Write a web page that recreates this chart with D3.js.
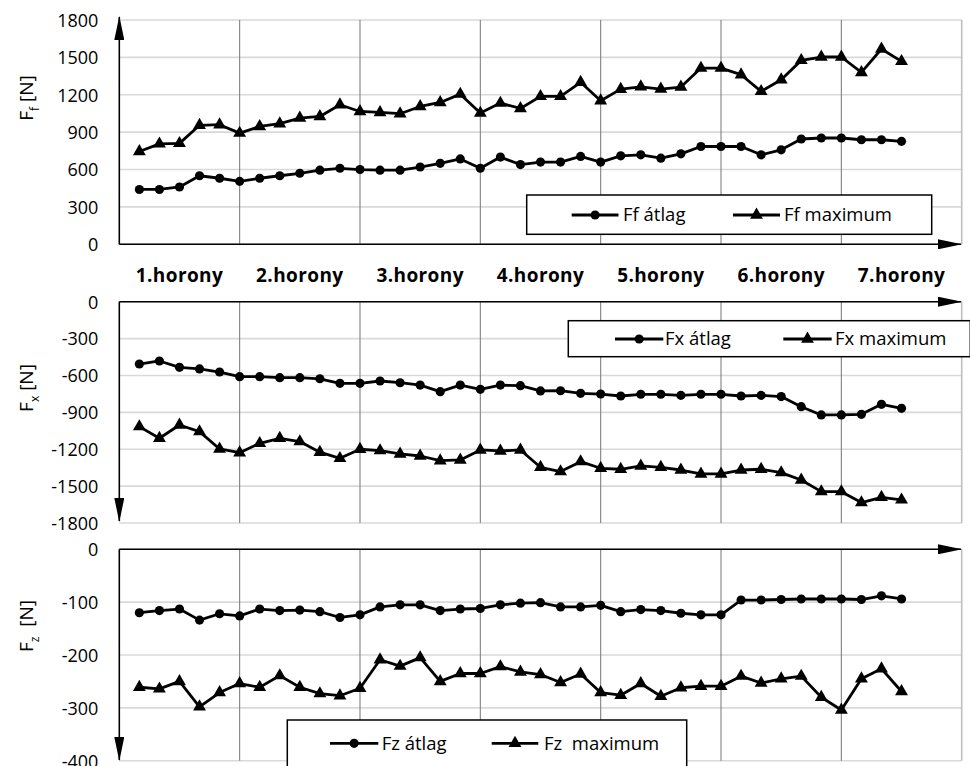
<!DOCTYPE html>
<html>
<head>
<meta charset="utf-8">
<script src="https://cdn.jsdelivr.net/npm/d3@7"></script>
<style>
  html, body { margin: 0; padding: 0; background: #fff; }
  svg { display: block; font-family: "Open Sans", "Liberation Sans", sans-serif; }
  .tick-label { font-size: 18px; fill: #000; }
  .horony { font-size: 19px; font-weight: bold; fill: #000; letter-spacing: 0.4px; }
  .legend-text { font-size: 18.5px; fill: #000; }
  .y-title { font-size: 19px; fill: #000; }
</style>
</head>
<body>
<div id="chart"></div>
<script>
// Három panel: Ff, Fx, Fz átlag és maximum, hornyonként 6 mérési pont.

const SECTIONS = ["1.horony", "2.horony", "3.horony", "4.horony", "5.horony", "6.horony", "7.horony"];
const SLOTS_PER_SECTION = 6;

const ffTicks = [0, 300, 600, 900, 1200, 1500, 1800];
const fxTicks = [0, -300, -600, -900, -1200, -1500, -1800];
const fzTicks = [0, -100, -200, -300, -400];

const ffAtlag = [440, 440, 460, 550, 530, 505, 530, 550, 570, 595, 610, 600, 595, 595, 620, 650, 685, 610, 700, 640,
  660, 660, 705, 660, 710, 718, 691, 726, 785, 785, 785, 718, 758, 845, 853, 853, 839, 839, 826];
const ffMax = [745, 806, 810, 955, 960, 892, 946, 968, 1013, 1026, 1120, 1066, 1058, 1048, 1106, 1138, 1205, 1053, 1133, 1090,
  1187, 1187, 1300, 1152, 1245, 1264, 1246, 1262, 1414, 1414, 1361, 1227, 1321, 1476, 1503, 1503, 1379, 1567, 1468];

const fxAtlag = [-507, -482, -534, -547, -572, -610, -610, -618, -618, -627, -664, -664, -645, -659, -678, -732, -678, -713, -678, -683,
  -726, -724, -745, -751, -767, -753, -753, -762, -753, -753, -767, -762, -772, -854, -921, -921, -916, -835, -867];
const fxMax = [-1016, -1111, -1003, -1057, -1198, -1228, -1152, -1111, -1138, -1224, -1274, -1200, -1211, -1238, -1255, -1293, -1287, -1206, -1214, -1206,
  -1347, -1382, -1301, -1355, -1363, -1336, -1347, -1369, -1401, -1401, -1369, -1363, -1390, -1450, -1545, -1545, -1634, -1591, -1612];

const fzAtlag = [-120, -116, -113, -134, -122, -126, -113, -116, -115, -118, -129, -124, -109, -105, -105, -116, -113, -112, -105, -102,
  -101, -109, -109, -106, -118, -114, -116, -121, -124, -124, -96, -96, -95, -94, -94, -94, -95, -88, -94];
const fzMax = [-261, -264, -250, -298, -271, -254, -261, -239, -261, -273, -277, -263, -209, -221, -205, -250, -235, -235, -222, -232,
  -237, -252, -236, -271, -276, -254, -278, -262, -259, -259, -240, -253, -245, -240, -280, -304, -245, -226, -269];

const W = 970, H = 766;
const X0 = 119.3, X1 = 961.7, ARROW_TIP_X = 961;

const x = d3.scaleLinear()
  .domain([0, SECTIONS.length * SLOTS_PER_SECTION])
  .range([X0, X1]);

const panels = [
  {
    top: 20, bottom: 244.3, domain: [0, 1800], ticks: ffTicks,
    axisY: 244.3, yArrow: [244.3, 17],
    title: ["F", "f", " [N]"], titleY: 98,
    series: [ffAtlag, ffMax], names: ["Ff átlag", "Ff maximum"],
    legend: { x: 526.7, y: 195, w: 405, h: 39.3, ty: 215, items: [[571.7, 618.5, 623], [733, 780, 784]] }
  },
  {
    top: 301.7, bottom: 523, domain: [0, -1800], ticks: fxTicks,
    axisY: 301.7, yArrow: [301.7, 521],
    title: ["F", "x", " [N]"], titleY: 388,
    series: [fxAtlag, fxMax], names: ["Fx átlag", "Fx maximum"],
    legend: { x: 568.3, y: 320.7, w: 402, h: 36, ty: 339, items: [[615, 663.3, 665], [783.3, 831.7, 835]] }
  },
  {
    top: 549.3, bottom: 760.7, domain: [0, -400], ticks: fzTicks,
    axisY: 549.3, yArrow: [549.3, 760],
    title: ["F", "z", "  [N]"], titleY: 626,
    series: [fzAtlag, fzMax], names: ["Fz átlag", "Fz  maximum"],
    legend: { x: 287.3, y: 720, w: 399.4, h: 60, ty: 743.3, items: [[330, 378.3, 381.7], [491.7, 538.3, 544]] }
  }
];

const svg = d3.select("#chart").append("svg")
  .attr("width", W)
  .attr("height", H)
  .attr("viewBox", `0 0 ${W} ${H}`);

// Nyílhegy
svg.append("defs").append("marker")
  .attr("id", "arrow")
  .attr("markerUnits", "userSpaceOnUse")
  .attr("markerWidth", 24)
  .attr("markerHeight", 10)
  .attr("refX", 23)
  .attr("refY", 5)
  .attr("orient", "auto")
  .append("path")
  .attr("d", "M0,0 L24,5 L0,10 Z")
  .attr("fill", "#000");

const symCircle = d3.symbol().type(d3.symbolCircle).size(66);
const symTriangle = d3.symbol().type(d3.symbolTriangle).size(72);
const symbols = [symCircle, symTriangle];

panels.forEach(p => {
  const y = d3.scaleLinear().domain(p.domain).range(p.domain[1] > 0 ? [p.bottom, p.top] : [p.top, p.bottom]);
  const g = svg.append("g");

  // Vízszintes rácsvonalak
  g.append("g").selectAll("line")
    .data(p.ticks)
    .join("line")
    .attr("x1", X0).attr("x2", X1)
    .attr("y1", d => y(d)).attr("y2", d => y(d))
    .attr("stroke", "#d9d9d9")
    .attr("stroke-width", 1.6);

  // Függőleges rácsvonalak (horony határok) + jobb keret
  const bounds = SECTIONS.map((_, i) => (i + 1) * SLOTS_PER_SECTION);
  g.append("g").selectAll("line")
    .data(bounds)
    .join("line")
    .attr("x1", d => x(d)).attr("x2", d => x(d))
    .attr("y1", p.top).attr("y2", p.bottom)
    .attr("stroke", d => d === bounds[bounds.length - 1] ? "#bfbfbf" : "#808080")
    .attr("stroke-width", d => d === bounds[bounds.length - 1] ? 1.6 : 1.1);

  // Tengelyfeliratok (sima kötőjel, mint az eredetin)
  const yAxis = g.append("g")
    .attr("transform", `translate(${X0 - 21},0)`)
    .call(d3.axisLeft(y).tickValues(p.ticks).tickSize(0).tickPadding(0).tickFormat(d => String(d)));
  yAxis.select(".domain").remove();
  yAxis.attr("font-size", null).attr("font-family", null);
  yAxis.selectAll("text")
    .attr("class", "tick-label")
    .attr("dy", "0.35em")
    .attr("fill", "#000");

  // Tengelyek nyíllal
  g.append("line")
    .attr("x1", X0).attr("x2", ARROW_TIP_X)
    .attr("y1", p.axisY).attr("y2", p.axisY)
    .attr("stroke", "#000").attr("stroke-width", 1.6)
    .attr("marker-end", "url(#arrow)");
  g.append("line")
    .attr("x1", X0).attr("x2", X0)
    .attr("y1", p.yArrow[0]).attr("y2", p.yArrow[1])
    .attr("stroke", "#000").attr("stroke-width", 1.6)
    .attr("marker-end", "url(#arrow)");

  // Adatsorok
  const line = d3.line()
    .x((_, i) => x(i + 1))
    .y(d => y(d));

  p.series.forEach((vals, si) => {
    g.append("path")
      .datum(vals)
      .attr("d", line)
      .attr("fill", "none")
      .attr("stroke", "#000")
      .attr("stroke-width", 2.8)
      .attr("stroke-linejoin", "round");
    g.append("g").selectAll("path")
      .data(vals)
      .join("path")
      .attr("d", symbols[si])
      .attr("transform", (d, i) => `translate(${x(i + 1)},${y(d)})`)
      .attr("fill", "#000");
  });

  // Y cím, alsó indexszel
  const t = svg.append("text")
    .attr("class", "y-title")
    .attr("transform", `translate(33,${p.titleY}) rotate(-90)`)
    .attr("text-anchor", "middle");
  t.append("tspan").text(p.title[0]);
  t.append("tspan").attr("font-size", "12px").attr("dy", 6).text(p.title[1]);
  t.append("tspan").attr("dy", -6).style("white-space", "pre").text(p.title[2]);

  // Jelmagyarázat
  const L = p.legend;
  const lg = svg.append("g");
  lg.append("rect")
    .attr("x", L.x).attr("y", L.y)
    .attr("width", L.w).attr("height", L.h)
    .attr("fill", "#fff")
    .attr("stroke", "#000")
    .attr("stroke-width", 1.5);
  L.items.forEach((it, si) => {
    lg.append("line")
      .attr("x1", it[0]).attr("x2", it[1])
      .attr("y1", L.ty).attr("y2", L.ty)
      .attr("stroke", "#000").attr("stroke-width", 2.8);
    lg.append("path")
      .attr("d", symbols[si])
      .attr("transform", `translate(${(it[0] + it[1]) / 2},${L.ty})`)
      .attr("fill", "#000");
    lg.append("text")
      .attr("class", "legend-text")
      .attr("x", it[2]).attr("y", L.ty)
      .attr("dy", "0.35em")
      .style("white-space", "pre")
      .text(p.names[si]);
  });
});

// Horony feliratok
svg.append("g").selectAll("text")
  .data(SECTIONS)
  .join("text")
  .attr("class", "horony")
  .attr("x", (_, i) => x(i * SLOTS_PER_SECTION + SLOTS_PER_SECTION / 2))
  .attr("y", 275)
  .attr("dy", "0.35em")
  .attr("text-anchor", "middle")
  .text(d => d);
</script>
</body>
</html>
